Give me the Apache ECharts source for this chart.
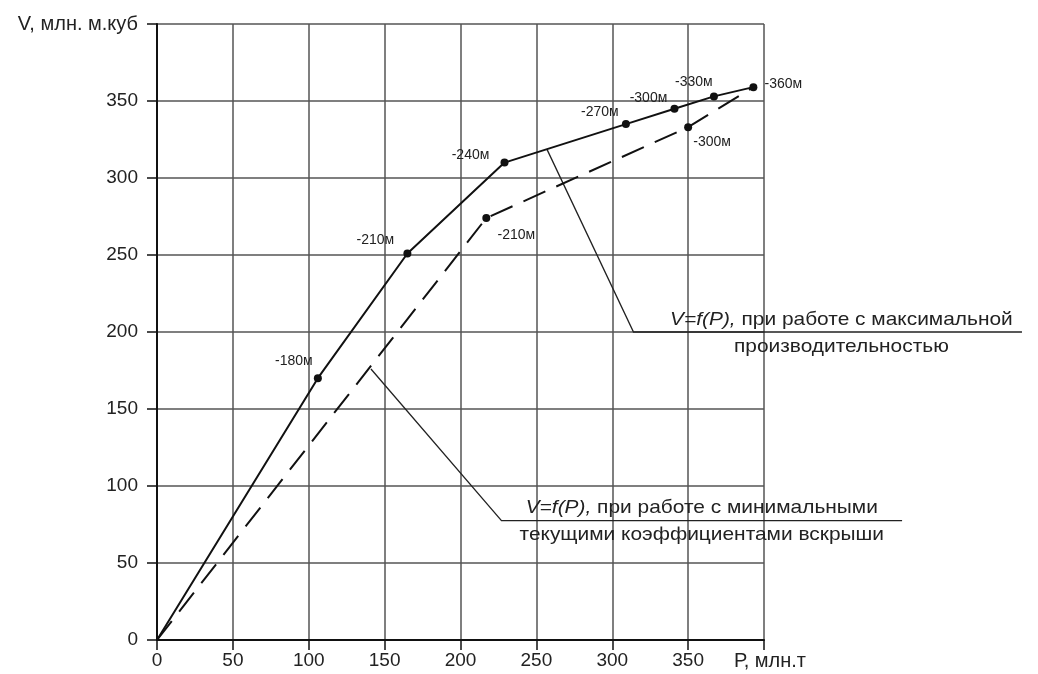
<!DOCTYPE html>
<html>
<head>
<meta charset="utf-8">
<script src="https://cdn.jsdelivr.net/npm/echarts@6/dist/echarts.min.js"></script>
<style>
html,body{margin:0;padding:0;background:#fff;}
#c{width:1038px;height:674px;}
</style>
</head>
<body>
<div id="c"></div>
<script>
// Axis ticks
var xTicks = [0, 50, 100, 150, 200, 250, 300, 350, 400];
var yTicks = [0, 50, 100, 150, 200, 250, 300, 350, 400];
var xAxisTitle = 'Р, млн.т';
var yAxisTitle = 'V, млн. м.куб';

// Solid curve: V=f(P) at maximum productivity
var maxP = [0, 106, 165, 229, 309, 341, 367, 393];
var maxV = [0, 170, 251, 310, 335, 345, 353, 359];
var maxLabels = ['', '-180м', '-210м', '-240м', '-270м', '-300м', '-330м', '-360м'];

// Dashed curve: V=f(P) at minimum current stripping ratios
var minP = [0, 217, 350, 393];
var minV = [0, 274, 333, 359];
var minLabels = ['', '-210м', '-300м', ''];

// Annotation leader lines (data coordinates)
var leaderMaxP = [257, 314, 570];
var leaderMaxV = [318.6, 200, 200];
var leaderMinP = [141, 227, 491];
var leaderMinV = [176, 77.5, 77.5];

// Annotation texts and anchors (data coordinates)
var noteMaxLines = ['V=f(P),', ' при работе с максимальной', 'производительностью'];
var noteMinLines = ['V=f(P),', ' при работе с минимальными', 'текущими коэффициентами вскрыши'];
var noteMaxAt = [451, 200];
var noteMinAt = [359, 77.5];

var FONT = '"Liberation Sans", Arial, sans-serif';

// label offsets (pixels) for each point, styling only
var maxOffsets = [[0,0],[-24,-17],[-32,-13],[-34,-7],[-26,-12],[-26,-11],[-20,-14],[30,-3]];
var minOffsets = [[0,0],[30,17],[24,15],[0,0]];

function buildPoints(ps, vs, labels, offs) {
  return ps.map(function (p, i) {
    var has = labels[i] !== '';
    return {
      value: [p, vs[i]],
      symbol: has ? 'circle' : 'none',
      symbolSize: 8,
      label: {
        show: has,
        formatter: labels[i],
        position: 'inside',
        offset: offs[i],
        fontSize: 14,
        color: '#222',
        fontFamily: FONT
      }
    };
  });
}

var chart = echarts.init(document.getElementById('c'), null, {renderer: 'canvas'});
var option = {
  backgroundColor: '#fff',
  animation: false,
  textStyle: {fontFamily: FONT},
  grid: {left: 157, right: 274, top: 24, bottom: 34, containLabel: false},
  xAxis: {
    type: 'value', min: xTicks[0], max: xTicks[xTicks.length - 1], interval: 50,
    axisLine: {show: true, onZero: false, lineStyle: {color: '#111', width: 2}},
    axisTick: {show: true, length: 10, lineStyle: {color: '#111', width: 1.5}},
    splitLine: {show: true, lineStyle: {color: '#555', width: 1.5}},
    axisLabel: {
      fontSize: 19, color: '#222', fontFamily: FONT, margin: 11,
      formatter: function (v) { return v === xTicks[xTicks.length - 1] ? '{t|' + xAxisTitle + '}' : String(v); },
      rich: {t: {fontSize: 20, color: '#222', fontFamily: FONT, padding: [0, 0, 0, 12]}}
    }
  },
  yAxis: {
    type: 'value', min: yTicks[0], max: yTicks[yTicks.length - 1], interval: 50,
    axisLine: {show: true, onZero: false, lineStyle: {color: '#111', width: 2}},
    axisTick: {show: true, length: 10, lineStyle: {color: '#111', width: 1.5}},
    splitLine: {show: true, lineStyle: {color: '#555', width: 1.5}},
    axisLabel: {
      fontSize: 19, color: '#222', fontFamily: FONT, margin: 19,
      formatter: function (v) { return v === yTicks[yTicks.length - 1] ? '{t|' + yAxisTitle + '}' : String(v); },
      rich: {t: {fontSize: 20, color: '#222', fontFamily: FONT}}
    }
  },
  series: [
    {
      type: 'line', name: 'max',
      data: buildPoints(maxP, maxV, maxLabels, maxOffsets),
      lineStyle: {color: '#111', width: 2},
      itemStyle: {color: '#111'},
      z: 5
    },
    {
      type: 'line', name: 'min',
      data: buildPoints(minP, minV, minLabels, minOffsets),
      lineStyle: {color: '#111', width: 2, type: [24, 12]},
      itemStyle: {color: '#111'},
      z: 5
    }
  ]
};
chart.setOption(option);

function px(p, v) { return chart.convertToPixel({gridIndex: 0}, [p, v]); }
function polyPoints(ps, vs) { return ps.map(function (p, i) { return px(p, vs[i]); }); }

var NOTE_FS = 19, NOTE_LH = 27;
var noteRich = {
  i: {fontStyle: 'italic', fontSize: NOTE_FS, lineHeight: NOTE_LH, fill: '#222', fontFamily: FONT},
  n: {fontSize: NOTE_FS, lineHeight: NOTE_LH, fill: '#222', fontFamily: FONT}
};
function noteText(lines, at) {
  var p = px(at[0], at[1]);
  return {
    type: 'text', x: p[0], y: p[1] + 1, scaleX: 1.1, z: 10, silent: true,
    style: {
      text: '{i|' + lines[0] + '}{n|' + lines[1] + '}\n{n|' + lines[2] + '}',
      rich: noteRich, align: 'center', verticalAlign: 'middle',
      fontSize: NOTE_FS, lineHeight: NOTE_LH, fill: '#222', fontFamily: FONT
    }
  };
}

chart.setOption({
  graphic: [
    {type: 'polyline', z: 4, silent: true, shape: {points: polyPoints(leaderMaxP, leaderMaxV)},
     style: {stroke: '#222', lineWidth: 1.3, fill: null}},
    {type: 'polyline', z: 4, silent: true, shape: {points: polyPoints(leaderMinP, leaderMinV)},
     style: {stroke: '#222', lineWidth: 1.3, fill: null}},
    noteText(noteMaxLines, noteMaxAt),
    noteText(noteMinLines, noteMinAt)
  ]
});
</script>
</body>
</html>
